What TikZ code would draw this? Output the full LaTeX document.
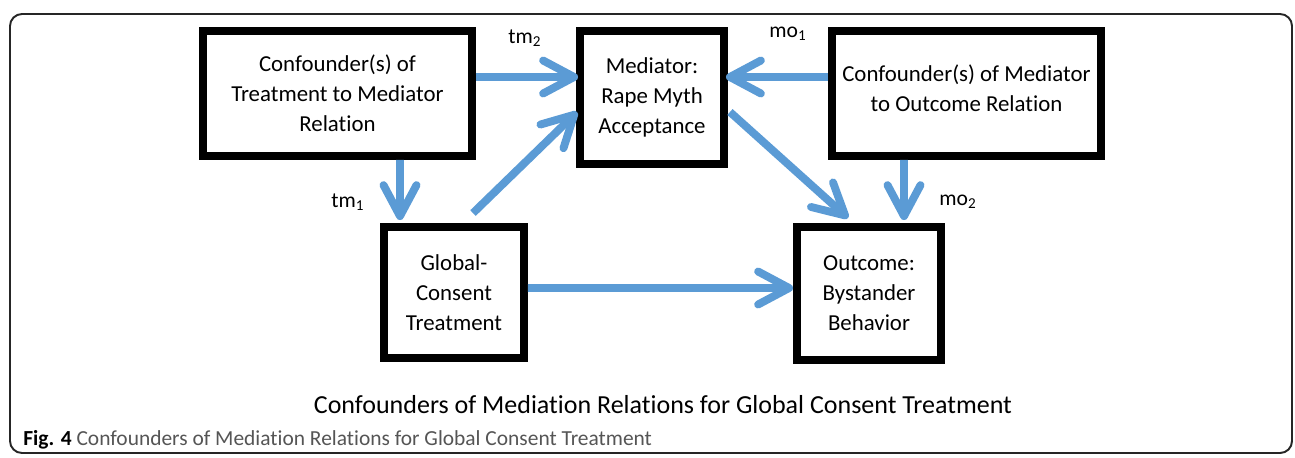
\documentclass[tikz,border=0pt]{standalone}
\usepackage{fontspec}
\setmainfont{Carlito}[Ligatures=NoCommon]
\usepackage{tikz}
\usetikzlibrary{arrows.meta,positioning,calc}
\definecolor{MedBlue}{HTML}{5B9BD5}
\definecolor{CapGray}{HTML}{555555}

\begin{document}
\begin{tikzpicture}[
  box/.style={draw=black, line width=4.5pt, fill=white, align=center, inner sep=2pt,
    font=\fontsize{13}{17}\selectfont},
  arrow/.style={-{Straight Barb[length=0.62cm, width=0.66cm, round]}, line width=4.5pt, color=MedBlue},
  lbl/.style={font=\fontsize{12.3}{14}\selectfont}
]
\useasboundingbox (0,0) rectangle (25.9,-9.14);
\draw[line width=1.1pt, rounded corners=0.24cm, color=black!85] (0.2,-0.28) rectangle (25.84,-9.06);

\node[box, minimum width=5.38cm, minimum height=2.5cm] (conftm) at (6.75,-1.87) {Confounder(s) of\\Treatment to Mediator\\Relation};
\node[box, minimum width=2.88cm, minimum height=2.66cm] (med) at (13.04,-1.95) {Mediator:\\Rape Myth\\Acceptance};
\node[box, minimum width=5.38cm, minimum height=2.5cm] (confmo) at (19.33,-1.87) {Confounder(s) of Mediator\\to Outcome Relation\\[-0.38cm]};
\node[box, minimum width=2.8cm, minimum height=2.62cm] (treat) at (9.08,-5.85) {Global-\\Consent\\Treatment};
\node[box, minimum width=2.88cm, minimum height=2.66cm] (outc) at (17.38,-5.87) {Outcome:\\Bystander\\Behavior};

% confounder paths
\draw[arrow] ($(conftm.east)+(0,0.33)$) -- ($(med.west)+(0.04,0.41)$);
\draw[arrow] ($(conftm.south)+(1.25,0)$) -- ($(treat.north)+(-1.08,0.06)$);
\draw[arrow] ($(confmo.west)+(0,0.33)$) -- ($(med.east)+(-0.04,0.41)$);
\draw[arrow] ($(confmo.south)+(-1.25,0)$) -- ($(outc.north)+(0.7,0.06)$);
% mediation model
\draw[arrow] ($(treat.north)+(0.38,0.2)$) -- ($(med.west)+(0.02,-0.29)$);
\draw[arrow] ($(med.east)+(0.04,-0.29)$) -- ($(outc.north)+(-0.42,0.1)$);
\draw[arrow] ($(treat.east)+(0,0.09)$) -- ($(outc.west)+(0,0.11)$);

\node[lbl] (tmb) at (10.5,-0.76) {tm\textsubscript{2}};
\node[lbl] (tma) at (6.96,-4.04) {tm\textsubscript{1}};
\node[lbl] (moa) at (15.76,-0.68) {mo\textsubscript{1}};
\node[lbl] (mob) at (19.16,-4.04) {mo\textsubscript{2}};

\node[font=\fontsize{14.8}{17}\selectfont] (title) at (13.26,-8.1) {Confounders of Mediation Relations for Global Consent Treatment};
\node[anchor=west, inner sep=0pt, font=\fontsize{12.2}{14}\selectfont, text=CapGray] (cap) at (0.46,-8.8) {\textbf{\color{black}Fig. 4} Confounders of Mediation Relations for Global Consent Treatment};
\end{tikzpicture}
\end{document}
